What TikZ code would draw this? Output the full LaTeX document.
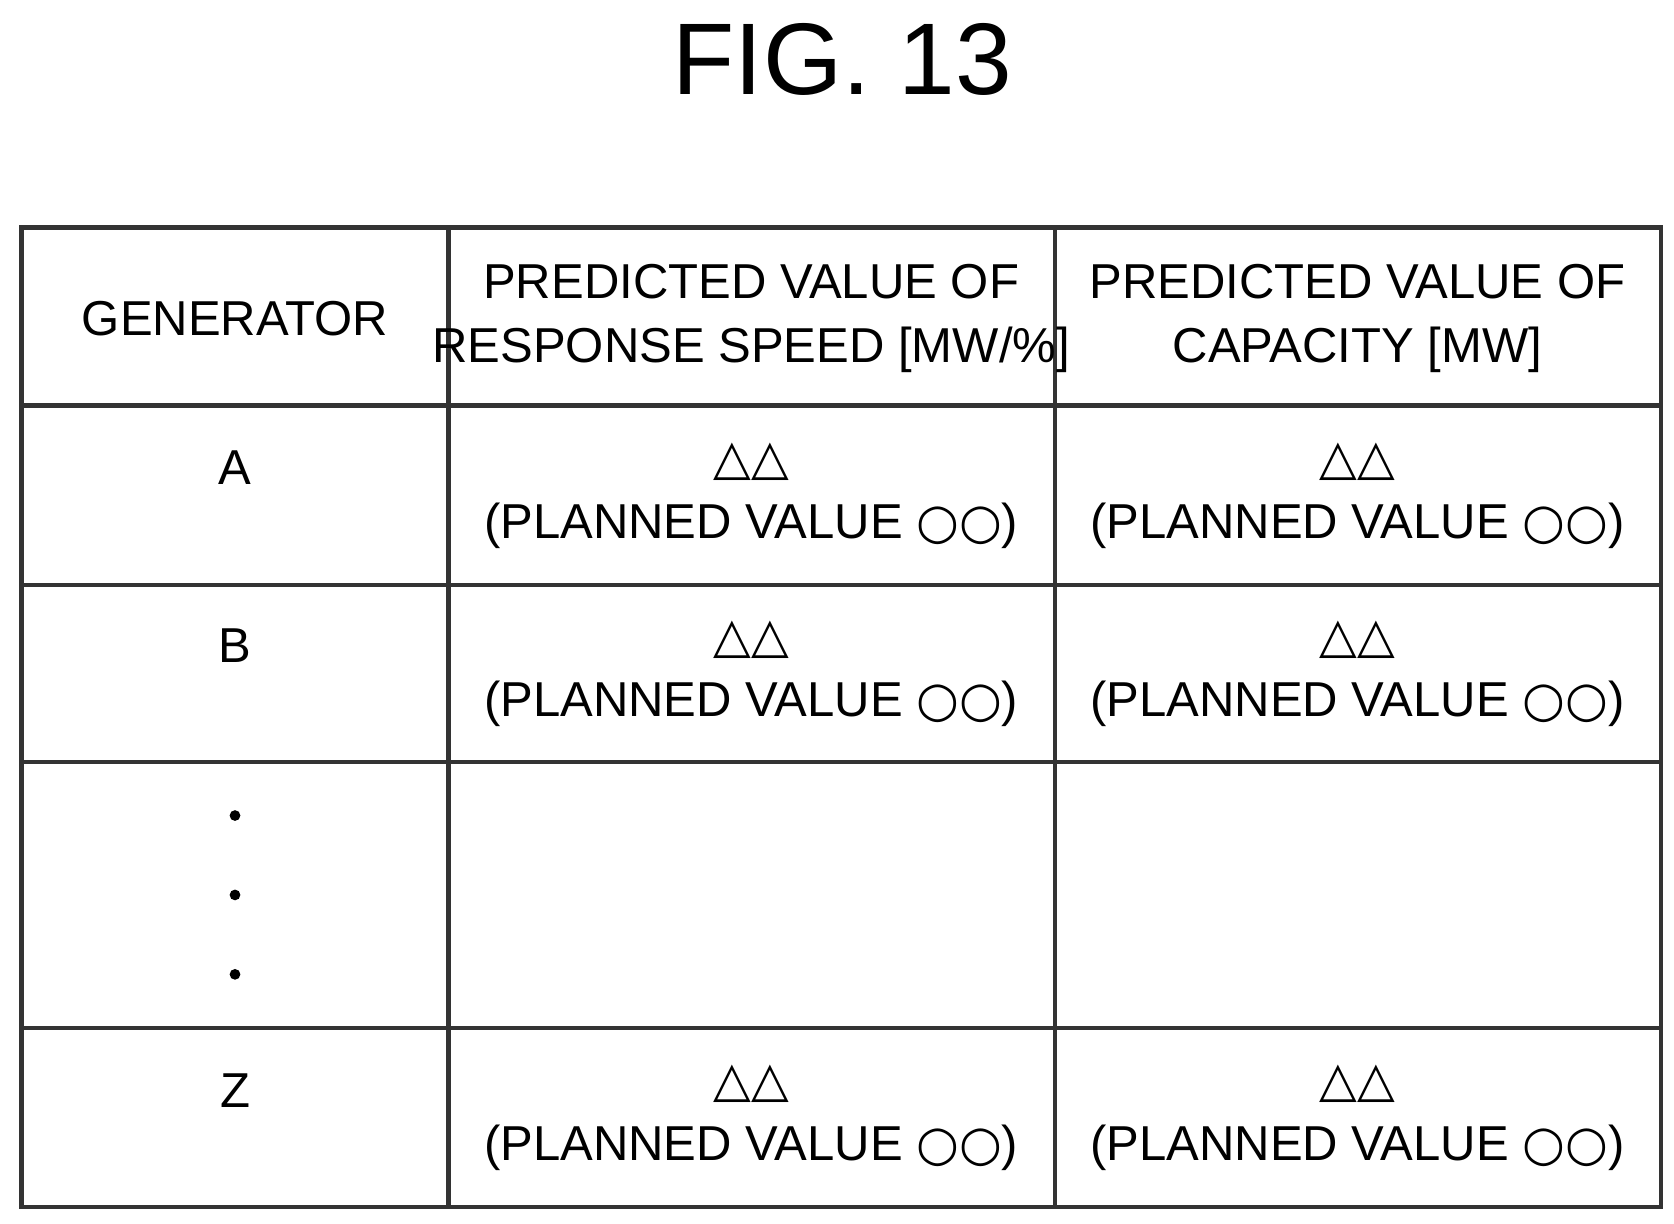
\documentclass[tikz,border=0pt]{standalone}
\usepackage{fontspec}
\setmainfont{Liberation Sans}
\newfontfamily\symfont{DejaVu Sans}
\usetikzlibrary{positioning}
\newcommand{\pv}{{\symfont △△}\\(PLANNED VALUE {\symfont ○○})}
\begin{document}
\begin{tikzpicture}[x=0.1mm,y=-0.1mm,
	cell/.style={align=center,font=\fontsize{13pt}{17pt}\selectfont},
	grid/.style={draw=black!80,line width=1.2pt}]
	\useasboundingbox (0,0) rectangle (1560,1140);
	\node[font=\fontsize{27pt}{30pt}\selectfont] (title) at (785,55) {FIG. 13};
	% table frame
	\draw[grid] (20,212) rectangle (1548,1125);
	\foreach \y in {378,545,710,958} \draw[grid] (20,\y) -- (1548,\y);
	\foreach \x in {418,983} \draw[grid] (\x,212) -- (\x,1125);
	% header
	\node[cell] (hgen) at (219,297) {GENERATOR};
	\node[cell] (hspeed) at (700,297) {PREDICTED VALUE OF\\RESPONSE SPEED [MW/\%]};
	\node[cell] (hcap) at (1265,297) {PREDICTED VALUE OF\\CAPACITY [MW]};
	% rows
	\node[cell] (ga) at (219,436) {A};
	\node[cell] (sa) at (700,462) {\pv};
	\node[cell] (ca) at (1265,462) {\pv};
	\node[cell] (gb) at (219,602) {B};
	\node[cell] (sb) at (700,628) {\pv};
	\node[cell] (cb) at (1265,628) {\pv};
	\foreach \y in {760,834,908} \fill (219,\y) circle (5);
	\node[cell] (gz) at (219,1016) {Z};
	\node[cell] (sz) at (700,1042) {\pv};
	\node[cell] (cz) at (1265,1042) {\pv};
\end{tikzpicture}
\end{document}
